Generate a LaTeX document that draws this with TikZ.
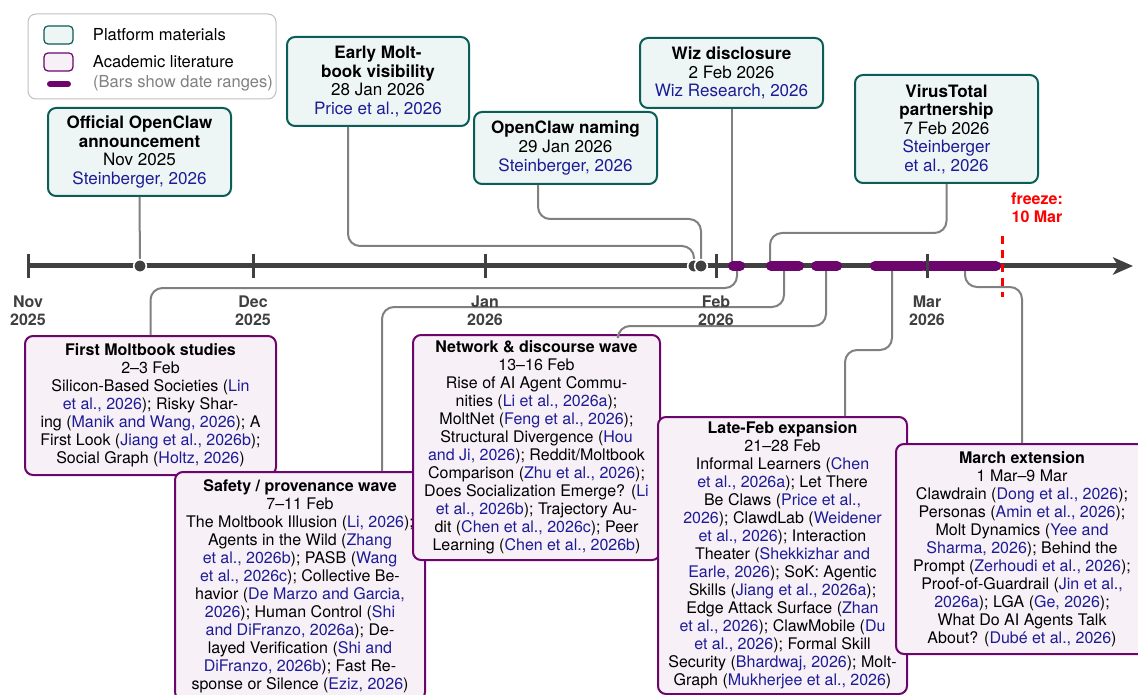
\documentclass[tikz,border=0pt]{standalone}
\usepackage{fontspec}
\setmainfont{TeX Gyre Heros}
\usetikzlibrary{positioning, arrows.meta}

\definecolor{PlatformEdge}{HTML}{0B5E58}
\definecolor{PlatformFill}{HTML}{EEF6F5}
\definecolor{AcademicEdge}{HTML}{6C056C}
\definecolor{AcademicFill}{HTML}{F7F0F7}
\definecolor{CiteBlue}{HTML}{1C1C96}
\definecolor{AxisGray}{HTML}{404040}
\definecolor{LinkGray}{HTML}{808080}

\tikzset{PlatformBox/.style={%
    shape=rectangle,%
    rounded corners=6pt,%
    draw=PlatformEdge,%
    fill=PlatformFill,%
    line width=1.5pt,%
    align=center,%
    inner sep=3pt,%
    font=\fontsize{12.8}{13.9}\selectfont,%
}}
\tikzset{AcademicBox/.style={%
    shape=rectangle,%
    rounded corners=6pt,%
    draw=AcademicEdge,%
    fill=AcademicFill,%
    line width=1.5pt,%
    align=center,%
    inner sep=3pt,%
    font=\fontsize{12}{13.5}\selectfont,%
}}
\tikzset{Connector/.style={%
    draw=LinkGray,%
    line width=1.5pt,%
    rounded corners=9pt,%
}}
\tikzset{RangeBar/.style={%
    draw=AcademicEdge,%
    line width=7.5pt,%
    line cap=round,%
}}
\tikzset{TimeAxis/.style={%
    draw=AxisGray,%
    line width=3.75pt,%
    -{Stealth[length=15pt, width=13pt, inset=4pt]},%
}}
\tikzset{MonthTick/.style={%
    draw=AxisGray,%
    line width=2.25pt,%
}}
\tikzset{EventDot/.style={%
    shape=circle,%
    fill=AxisGray,%
    draw=white,%
    line width=1.2pt,%
    minimum size=9.5pt,%
    inner sep=0pt,%
}}
\tikzset{MonthLabel/.style={%
    align=center,%
    text=AxisGray,%
    font=\fontsize{12}{13.5}\selectfont\bfseries,%
}}
\tikzset{FreezeLine/.style={%
    draw=red,%
    line width=2.25pt,%
    dash pattern=on 6pt off 4.5pt,%
}}
\tikzset{LegendFrame/.style={%
    draw=black!25,%
    line width=0.75pt,%
    rounded corners=6pt,%
}}
\tikzset{LegendSwatch/.style={%
    shape=rectangle,%
    rounded corners=3pt,%
    line width=0.9pt,%
    minimum width=21.75pt,%
    minimum height=13.5pt,%
    inner sep=0pt,%
}}
\tikzset{LegendText/.style={%
    font=\fontsize{12.4}{13.5}\selectfont,%
}}
\NewDocumentCommand{\citeRef}{m}{%
    \textcolor{CiteBlue}{#1}%
}

\begin{document}
\begin{tikzpicture}[x=0.75pt, y=-0.75pt]
    \useasboundingbox (0,0) rectangle (1138,695);

    % legend
    \draw[LegendFrame] (28,14) rectangle (276,99);
    \node[LegendSwatch, draw=PlatformEdge, fill=PlatformFill] (legPlat) at (58.5,35) {};
    \node[LegendText, right=11pt of legPlat] (legPlatText) {Platform materials};
    \node[LegendSwatch, draw=AcademicEdge, fill=AcademicFill] (legAcad) at (58.5,62) {};
    \node[LegendText, right=11pt of legAcad] (legAcadText) {Academic literature};
    \draw[RangeBar, line width=4.5pt] (50,84) -- (68,84);
    \node[LegendText, text=LinkGray, anchor=west] (legBarText) at (88.5,83) {(Bars show date ranges)};

    % points on the time axis
    \coordinate (tickNov) at (28,266);
    \coordinate (tickDec) at (253,266);
    \coordinate (tickJan) at (485,266);
    \coordinate (tickFeb) at (716,266);
    \coordinate (tickMar) at (927,266);
    \coordinate (tNov) at (140,266);
    \coordinate (tJanA) at (694,266);
    \coordinate (tJanB) at (701,266);
    \coordinate (tWiz) at (731.5,266);
    \coordinate (tVirus) at (770,266);
    \coordinate (bFirst) at (737,266);
    \coordinate (bSafety) at (784,266);
    \coordinate (bNet) at (826,266);
    \coordinate (bLate) at (892,266);
    \coordinate (bMarch) at (965,266);

    % platform materials
    \node[PlatformBox, minimum width=137.25pt, minimum height=66pt] (offAnn) at (139.5,152)
        {\textbf{Official OpenClaw}\\\textbf{announcement}\\Nov 2025\\\citeRef{Steinberger, 2026}};
    \node[PlatformBox, minimum width=136.5pt, minimum height=66.75pt] (earlyVis) at (378,81.5)
        {\textbf{Early Molt-}\\\textbf{book visibility}\\28 Jan 2026\\\citeRef{Price et al., 2026}};
    \node[PlatformBox, minimum width=137.25pt, minimum height=54pt] (naming) at (565.5,148)
        {\textbf{OpenClaw naming}\\29 Jan 2026\\\citeRef{Steinberger, 2026}};
    \node[PlatformBox, minimum width=137.25pt, minimum height=52.5pt] (wiz) at (731.5,73)
        {\textbf{Wiz disclosure}\\2 Feb 2026\\\citeRef{Wiz Research, 2026}};
    \node[PlatformBox, minimum width=137.25pt, minimum height=81pt] (virus) at (946.5,129)
        {\textbf{VirusTotal}\\\textbf{partnership}\\7 Feb 2026\\\citeRef{Steinberger}\\\citeRef{et al., 2026}};

    % academic literature
    \node[AcademicBox, minimum width=188.25pt, minimum height=104.25pt] (firstStud) at (150.5,405.5)
        {\textbf{First Moltbook studies}\\
        2--3 Feb\\
        Silicon-Based Societies (\citeRef{Lin}\\
        \citeRef{et al., 2026}); Risky Shar-\\
        ing (\citeRef{Manik and Wang, 2026}); A\\
        First Look (\citeRef{Jiang et al., 2026b});\\
        Social Graph (\citeRef{Holtz, 2026})};
    \node[AcademicBox, minimum width=187.5pt, minimum height=171pt] (safety) at (300,586)
        {\textbf{Safety / provenance wave}\\
        7--11 Feb\\
        The Moltbook Illusion (\citeRef{Li, 2026});\\
        Agents in the Wild (\citeRef{Zhang}\\
        \citeRef{et al., 2026b}); PASB (\citeRef{Wang}\\
        \citeRef{et al., 2026c}); Collective Be-\\
        havior (\citeRef{De Marzo and Garcia,}\\
        \citeRef{2026}); Human Control (\citeRef{Shi}\\
        \citeRef{and DiFranzo, 2026a}); De-\\
        layed Verification (\citeRef{Shi and}\\
        \citeRef{DiFranzo, 2026b}); Fast Re-\\
        sponse or Silence (\citeRef{Eziz, 2026})};
    \node[AcademicBox, minimum width=185.25pt, minimum height=168.75pt] (network) at (536.5,447.5)
        {\textbf{Network \& discourse wave}\\
        13--16 Feb\\
        Rise of AI Agent Commu-\\
        nities (\citeRef{Li et al., 2026a});\\
        MoltNet (\citeRef{Feng et al., 2026});\\
        Structural Divergence (\citeRef{Hou}\\
        \citeRef{and Ji, 2026}); Reddit/Moltbook\\
        Comparison (\citeRef{Zhu et al., 2026});\\
        Does Socialization Emerge? (\citeRef{Li}\\
        \citeRef{et al., 2026b}); Trajectory Au-\\
        dit (\citeRef{Chen et al., 2026c}); Peer\\
        Learning (\citeRef{Chen et al., 2026b})};
    \node[AcademicBox, minimum width=186.75pt, minimum height=207.75pt] (lateFeb) at (782.5,555.5)
        {\textbf{Late-Feb expansion}\\
        21--28 Feb\\
        Informal Learners (\citeRef{Chen}\\
        \citeRef{et al., 2026a}); Let There\\
        Be Claws (\citeRef{Price et al.,}\\
        \citeRef{2026}); ClawdLab (\citeRef{Weidener}\\
        \citeRef{et al., 2026}); Interaction\\
        Theater (\citeRef{Shekkizhar and}\\
        \citeRef{Earle, 2026}); SoK: Agentic\\
        Skills (\citeRef{Jiang et al., 2026a});\\
        Edge Attack Surface (\citeRef{Zhan}\\
        \citeRef{et al., 2026}); ClawMobile (\citeRef{Du}\\
        \citeRef{et al., 2026}); Formal Skill\\
        Security (\citeRef{Bhardwaj, 2026}); Molt-\\
        Graph (\citeRef{Mukherjee et al., 2026})};
    \node[AcademicBox, minimum width=189pt, minimum height=157.5pt] (march) at (1022,549)
        {\textbf{March extension}\\
        1 Mar--9 Mar\\
        Clawdrain (\citeRef{Dong et al., 2026});\\
        Personas (\citeRef{Amin et al., 2026});\\
        Molt Dynamics (\citeRef{Yee and}\\
        \citeRef{Sharma, 2026}); Behind the\\
        Prompt (\citeRef{Zerhoudi et al., 2026});\\
        Proof-of-Guardrail (\citeRef{Jin et al.,}\\
        \citeRef{2026a}); LGA (\citeRef{Ge, 2026});\\
        What Do AI Agents Talk\\
        About? (\citeRef{Dubé et al., 2026})};

    % connectors
    \draw[Connector] (offAnn.south) -- (tNov);
    \draw[Connector] ([xshift=-22.5pt]earlyVis.south) -- ++(0,119) -| (tJanA);
    \draw[Connector] ([xshift=-20.6pt]naming.south) -- ++(0,34) -| (tJanB);
    \draw[Connector] (wiz.south) -- (tWiz);
    \draw[Connector] (virus.south) -- ++(0,49) -| (tVirus);
    \draw[Connector] (bFirst) -- ++(0,22) -| (firstStud.north);
    \draw[Connector] (bSafety) -- ++(0,41) -| ([xshift=61.5pt]safety.north);
    \draw[Connector] (bNet) -- ++(0,60) -| ([xshift=61.1pt]network.north);
    \draw[Connector] (bLate) -- ++(0,84) -| ([xshift=46.9pt]lateFeb.north);
    \draw[Connector] (bMarch) -- ++(0,21) -| (march.north);

    % time axis
    \draw[TimeAxis] (tickNov) -- (1133,266);
    \draw[RangeBar] (733,266) -- (740,266);
    \draw[RangeBar] (771,266) -- (799,266);
    \draw[RangeBar] (816,266) -- (837,266);
    \draw[RangeBar] (875,266) -- (922,266);
    \draw[RangeBar] (925,266) -- (996,266);
    \draw[MonthTick] ([yshift=9pt]tickNov) -- ([yshift=-9pt]tickNov);
    \draw[MonthTick] ([yshift=9pt]tickDec) -- ([yshift=-9pt]tickDec);
    \draw[MonthTick] ([yshift=9pt]tickJan) -- ([yshift=-9pt]tickJan);
    \draw[MonthTick] ([yshift=9pt]tickFeb) -- ([yshift=-9pt]tickFeb);
    \draw[MonthTick] ([yshift=9pt]tickMar) -- ([yshift=-9pt]tickMar);
    \node[EventDot] (dotNov) at (tNov) {};
    \node[EventDot] (dotJanA) at (tJanA) {};
    \node[EventDot] (dotJanB) at (tJanB) {};

    \node[MonthLabel, below=19pt of tickNov] (lblNov) {Nov\\2025};
    \node[MonthLabel, below=19pt of tickDec] (lblDec) {Dec\\2025};
    \node[MonthLabel, below=19pt of tickJan] (lblJan) {Jan\\2026};
    \node[MonthLabel, below=19pt of tickFeb] (lblFeb) {Feb\\2026};
    \node[MonthLabel, below=19pt of tickMar] (lblMar) {Mar\\2026};

    % data freeze
    \draw[FreezeLine] (1002,236) -- (1002,297);
    \node[MonthLabel, text=red] (freeze) at (1037,208) {freeze:\\10 Mar};
\end{tikzpicture}
\end{document}
